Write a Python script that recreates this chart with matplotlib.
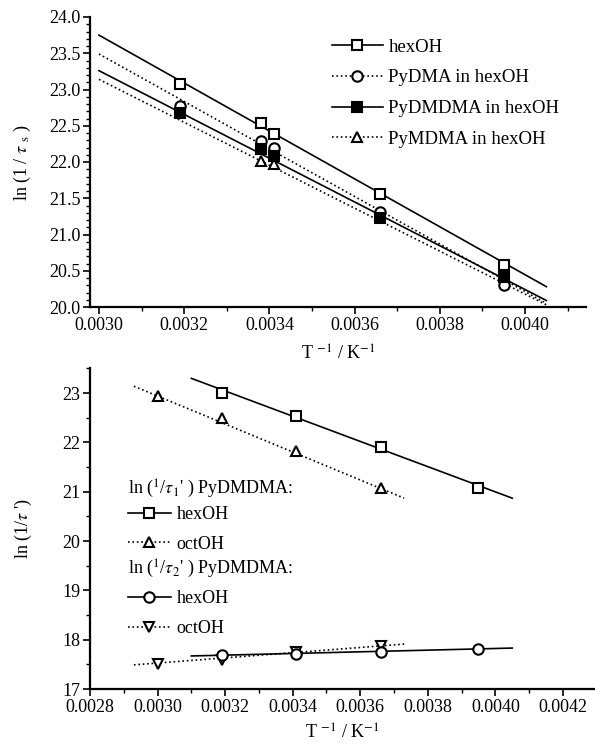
import matplotlib
matplotlib.use("Agg")
import matplotlib.pyplot as plt
from matplotlib.ticker import MultipleLocator, FormatStrFormatter

plt.rcParams['font.family'] = ['Liberation Serif', 'DejaVu Serif']
plt.rcParams['mathtext.fontset'] = 'stix'

# ---------------- data: relaxation rates vs inverse temperature ----------------
inv_T = [0.00319, 0.00338, 0.00341, 0.00366, 0.00395]

hexoh_s = [23.07, 22.54, 22.39, 21.56, 20.58]
pydma_s = [22.77, 22.29, 22.19, 21.31, 20.31]
pydmdma_s = [22.67, 22.18, 22.08, 21.23, 20.41]
pymdma_x = [0.00338, 0.00341]
pymdma_s = [22.01, 21.97]

# fitted lines (end points)
fit_x = [0.0030, 0.00405]
fit_hexoh = [23.75, 20.28]
fit_pydma = [23.49, 20.05]
fit_pydmdma = [23.26, 20.09]
fit_pymdma = [23.14, 20.03]

# lower panel: PyDMDMA tau1' and tau2'
hex_x = [0.00319, 0.00341, 0.00366, 0.00395]
oct_x = [0.00300, 0.00319, 0.00341, 0.00366]
tau1_hex = [23.00, 22.53, 21.90, 21.07]
tau1_oct = [22.94, 22.49, 21.82, 21.07]
tau2_hex = [17.69, 17.71, 17.75, 17.81]
tau2_oct = [17.51, 17.59, 17.75, 17.87]

fit_hex_x = [0.0031, 0.00405]
fit_oct_x = [0.00293, 0.00373]
fit_tau1_hex = [23.30, 20.87]
fit_tau1_oct = [23.14, 20.87]
fit_tau2_hex = [17.67, 17.83]
fit_tau2_oct = [17.49, 17.91]

W, H = 595, 746
fig = plt.figure(figsize=(W / 100, H / 100), dpi=100)

def px_axes(x0, y0, x1, y1):
    return fig.add_axes([x0 / W, 1 - y1 / H, (x1 - x0) / W, (y1 - y0) / H])

def style(ax):
    for s in ('top', 'right'):
        ax.spines[s].set_visible(False)
    for s in ('left', 'bottom'):
        ax.spines[s].set_linewidth(1.6)
    ax.tick_params(which='major', direction='out', length=5, width=1.2,
                   labelsize=13, pad=2)
    ax.tick_params(which='minor', direction='out', length=3, width=1.0)

mk = dict(markersize=7.5, markeredgewidth=1.5, markeredgecolor='black',
          color='black')

# ---------------- upper panel ----------------
ax1 = px_axes(90, 17, 586, 307)
style(ax1)
ax1.plot(fit_x, fit_hexoh, '-', color='black', lw=1.2)
ax1.plot(fit_x, fit_pydma, ':', color='black', lw=1.2)
ax1.plot(fit_x, fit_pydmdma, '-', color='black', lw=1.2)
ax1.plot(fit_x, fit_pymdma, ':', color='black', lw=1.2)
ax1.plot(pymdma_x, pymdma_s, '^', markerfacecolor='white', **mk)
ax1.plot(inv_T, pydma_s, 'o', markerfacecolor='white', **mk)
ax1.plot(inv_T, pydmdma_s, 's', markerfacecolor='black', **mk)
ax1.plot(inv_T, hexoh_s, 's', markerfacecolor='white', **mk)

h1 = [
    plt.Line2D([], [], ls='-', marker='s', markerfacecolor='white', lw=1.2, **mk),
    plt.Line2D([], [], ls=':', marker='o', markerfacecolor='white', lw=1.2, **mk),
    plt.Line2D([], [], ls='-', marker='s', markerfacecolor='black', lw=1.2, **mk),
    plt.Line2D([], [], ls=':', marker='^', markerfacecolor='white', lw=1.2, **mk),
]
ax1.legend(h1, ['hexOH', 'PyDMA in hexOH', 'PyDMDMA in hexOH', 'PyMDMA in hexOH'],
           loc='upper left', bbox_to_anchor=(0.488, 0.925), frameon=False,
           fontsize=13.5, handlelength=2.7, handletextpad=0.3,
           labelspacing=0.72, borderpad=0, borderaxespad=0)

ax1.set_xlim(0.002979, 0.004143)
ax1.set_ylim(20.0, 24.0)
ax1.xaxis.set_major_locator(MultipleLocator(0.0002))
ax1.xaxis.set_minor_locator(MultipleLocator(0.0001))
ax1.xaxis.set_major_formatter(FormatStrFormatter('%.4f'))
ax1.yaxis.set_major_locator(MultipleLocator(0.5))
ax1.yaxis.set_minor_locator(MultipleLocator(0.1))
ax1.yaxis.set_major_formatter(FormatStrFormatter('%.1f'))
ax1.set_xlabel(r'T $^{-1}$ / K$^{-1}$', fontsize=13, labelpad=8)
ax1.set_ylabel(r'ln (1 / $\tau$ $_{\rm s}$ )', fontsize=13, labelpad=11)

# ---------------- lower panel ----------------
ax2 = px_axes(90, 368, 594, 689)
style(ax2)
ax2.plot(fit_hex_x, fit_tau1_hex, '-', color='black', lw=1.2)
ax2.plot(fit_oct_x, fit_tau1_oct, ':', color='black', lw=1.2)
ax2.plot(fit_hex_x, fit_tau2_hex, '-', color='black', lw=1.2)
ax2.plot(fit_oct_x, fit_tau2_oct, ':', color='black', lw=1.2)
ax2.plot(hex_x, tau1_hex, 's', markerfacecolor='white', **mk)
ax2.plot(oct_x, tau1_oct, '^', markerfacecolor='white', **mk)
ax2.plot(oct_x, tau2_oct, 'v', markerfacecolor='white', **mk)
ax2.plot(hex_x, tau2_hex, 'o', markerfacecolor='white', **mk)

leg_kw = dict(frameon=False, fontsize=13, handlelength=2.4, handletextpad=0.3,
              labelspacing=0.7, borderpad=0, borderaxespad=0, loc='upper left')
ha = [plt.Line2D([], [], ls='-', marker='s', markerfacecolor='white', lw=1.2, **mk),
      plt.Line2D([], [], ls=':', marker='^', markerfacecolor='white', lw=1.2, **mk)]
hb = [plt.Line2D([], [], ls='-', marker='o', markerfacecolor='white', lw=1.2, **mk),
      plt.Line2D([], [], ls=':', marker='v', markerfacecolor='white', lw=1.2, **mk)]
ax2.text(0.0754, 0.623, r"ln ($^1$/$\tau_1$' ) PyDMDMA:", fontsize=13,
         transform=ax2.transAxes, ha='left', va='center')
ax2.text(0.0754, 0.374, r"ln ($^1$/$\tau_2$' ) PyDMDMA:", fontsize=13,
         transform=ax2.transAxes, ha='left', va='center')
lg_a = ax2.legend(ha, ['hexOH', 'octOH'], bbox_to_anchor=(0.075, 0.570), **leg_kw)
ax2.add_artist(lg_a)
ax2.legend(hb, ['hexOH', 'octOH'], bbox_to_anchor=(0.075, 0.307), **leg_kw)

ax2.set_xlim(0.0028, 0.004292)
ax2.set_ylim(17.0, 23.51)
ax2.xaxis.set_major_locator(MultipleLocator(0.0002))
ax2.xaxis.set_minor_locator(MultipleLocator(0.0001))
ax2.xaxis.set_major_formatter(FormatStrFormatter('%.4f'))
ax2.yaxis.set_major_locator(MultipleLocator(1))
ax2.yaxis.set_minor_locator(MultipleLocator(0.5))
ax2.yaxis.set_major_formatter(FormatStrFormatter('%d'))
ax2.set_xlabel(r'T $^{-1}$ / K$^{-1}$', fontsize=13, labelpad=6)
ax2.set_ylabel(r"ln (1/$\tau$ ')", fontsize=13, labelpad=20)

fig.savefig('out.png', dpi=100)
